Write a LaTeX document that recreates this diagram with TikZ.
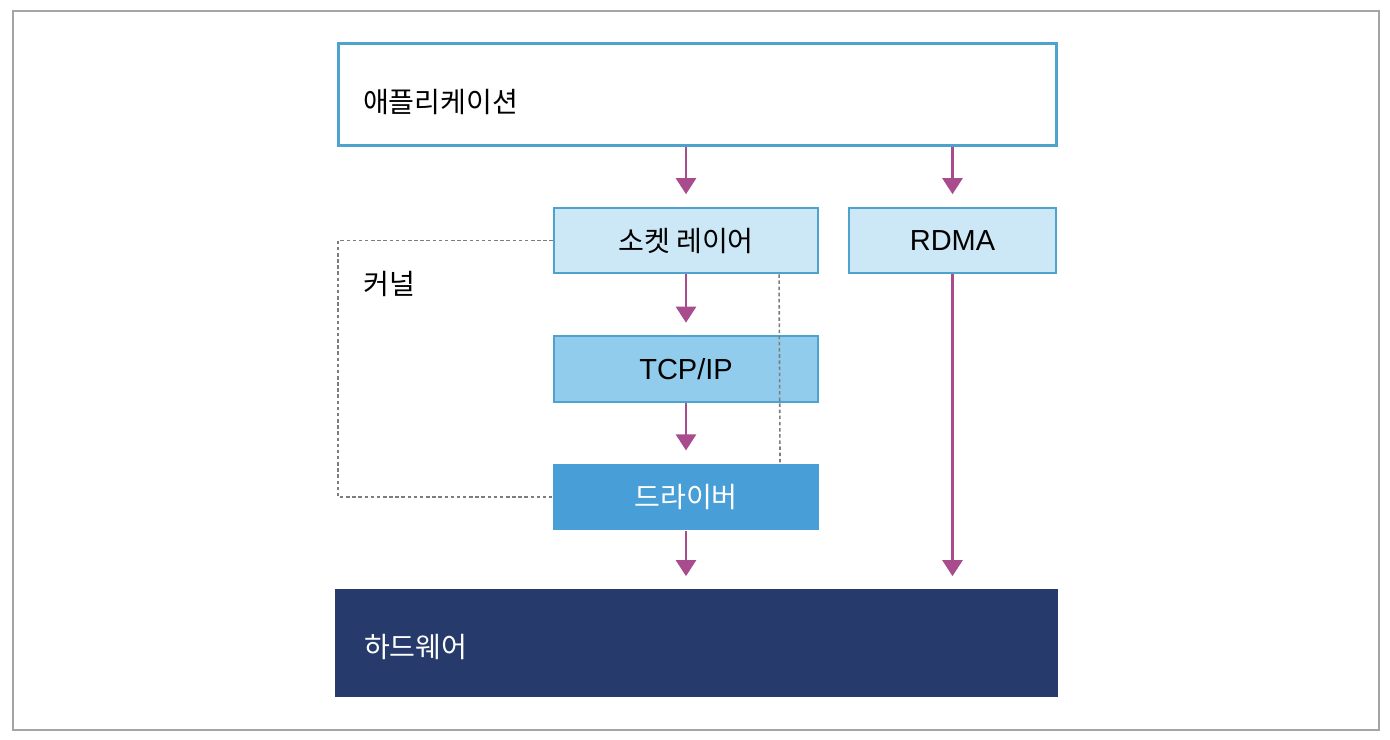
\documentclass[tikz,border=0pt]{standalone}
\usepackage{fontspec}
\setmainfont{Liberation Sans}
\newfontfamily\kr{Noto Sans CJK KR}
\usetikzlibrary{arrows.meta}
\definecolor{appline}{RGB}{78,162,206}
\definecolor{sockfill}{RGB}{204,232,246}
\definecolor{tcpfill}{RGB}{146,204,236}
\definecolor{drvfill}{RGB}{72,158,214}
\definecolor{hwfill}{RGB}{38,59,108}
\definecolor{arrowcol}{RGB}{168,76,142}
\definecolor{kernelgray}{RGB}{125,125,125}
\definecolor{framegray}{RGB}{165,165,165}
\begin{document}
\begin{tikzpicture}[x=0.02cm,y=-0.02cm,
		layer/.style={draw=appline,line width=1.2pt,minimum height=1.31cm,inner sep=0pt},
		krtext/.style={font=\kr\fontsize{16}{19}\selectfont},
		latext/.style={font=\fontsize{16.5}{19}\selectfont},
		flow/.style={draw=arrowcol,line width=1.4pt,-{Triangle[width=0.4cm,length=0.32cm]},shorten >=0.25cm},
		kernel/.style={draw=kernelgray,line width=0.9pt,dash pattern=on 2pt off 1.5pt}]
	\useasboundingbox (0,0) rectangle (1390,740);
	\draw[draw=framegray,line width=1.2pt] (13,11) rectangle (1379,730);
	\node[layer,krtext,line width=1.7pt,fill=white,minimum width=14.38cm,minimum height=2.06cm,text width=13.38cm,inner xsep=0.5cm,align=left,text height=20pt,text depth=0pt] (00) at (697.5,94.5) {애플리케이션};
	\node[layer,krtext,fill=sockfill,minimum width=5.28cm] (10) at (686,240.5) {소켓 레이어};
	\node[layer,latext,fill=sockfill,minimum width=4.14cm] (11) at (952.5,240.5) {RDMA};
	\node[layer,latext,fill=tcpfill,minimum width=5.28cm] (20) at (686,369) {TCP/IP};
	\node[layer,krtext,draw=none,fill=drvfill,text=white,minimum width=5.32cm,minimum height=1.32cm] (30) at (686,497) {드라이버};
	\node[krtext,fill=hwfill,text=white,minimum width=14.46cm,minimum height=2.16cm,text width=13.3cm,inner xsep=0.58cm,align=left,text height=16pt,text depth=0pt] (40) at (696.5,643) {하드웨어};
	\node[krtext,anchor=west,inner sep=0pt] (k) at (363,284) {커널};
	\draw[flow] (00.south -| 10.north) -- (10.north);
	\draw[flow] (00.south -| 11.north) -- (11.north);
	\draw[flow] (10) -- (20);
	\draw[flow] (20) -- (30);
	\draw[flow] (30) -- (30 |- 40.north);
	\draw[flow] (11) -- (11 |- 40.north);
	\draw[kernel] (10.west) -- ++(-215,0) |- (30.west);
	\draw[kernel] ([xshift=-0.8cm]10.south east) -- ([xshift=-0.8cm]30.north east);
\end{tikzpicture}
\end{document}
